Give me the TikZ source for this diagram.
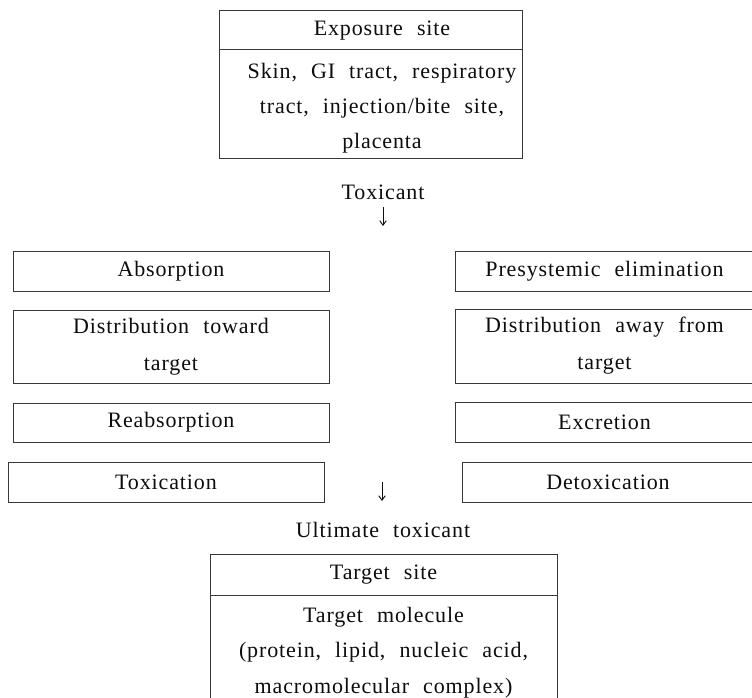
\documentclass[tikz,border=0pt]{standalone}
\usepackage{fontspec}
\setmainfont[LetterSpace=4,WordSpace=2.2]{Liberation Serif}
\usetikzlibrary{arrows.meta}
\definecolor{ink}{gray}{0.05}
\definecolor{edge}{gray}{0.22}
\tikzset{
  txt/.style={font=\fontsize{22}{36}\selectfont, text=ink, inner sep=0pt, align=center},
  boxnode/.style={draw=edge, line width=0.9pt, rectangle, inner sep=0pt, anchor=center,
    font=\fontsize{22}{37}\selectfont, text=ink, align=center},
  flowarrow/.style={draw=ink, line width=0.9pt, -{Straight Barb[length=4.5pt,width=6.5pt]}}
}
\begin{document}
\begin{tikzpicture}[x=1pt,y=-1pt]
\useasboundingbox[fill=white] (0,0) rectangle (752,698);
% top box
\node[boxnode, minimum width=303pt, minimum height=39pt] (topHead) at (370.5,29.5) {};
\node[boxnode, minimum width=303pt, minimum height=109pt] (topBody) at (370.5,103.5) {};
\node[txt] (topHeadTxt) at (382,31) {Exposure site};
\node[txt, font=\fontsize{22}{35}\selectfont] (topBodyTxt) at (382,108) {Skin, GI tract, respiratory\\tract, injection/bite site,\\placenta};
% toxicant
\node[txt] (toxicant) at (383,192) {Toxicant};
\coordinate (a1s) at (383,207);
\coordinate (a1e) at (383,226);
\draw[flowarrow] (a1s) -- (a1e);
% left column
\node[boxnode, minimum width=316pt, minimum height=40pt] (abs) at (171,271) {Absorption};
\node[boxnode, minimum width=316pt, minimum height=73pt] (distT) at (171,346.5) {Distribution toward\\target};
\node[boxnode, minimum width=316pt, minimum height=39pt] (reabs) at (171,422.5) {Reabsorption};
\node[boxnode, minimum width=316pt, minimum height=40pt] (toxi) at (166,482) {Toxication};
% right column
\node[boxnode, minimum width=299pt, minimum height=40pt] (pres) at (604.5,271) {Presystemic elimination};
\node[boxnode, minimum width=299pt, minimum height=74pt] (distA) at (604.5,346) {Distribution away from\\target};
\node[boxnode, minimum width=299pt, minimum height=40pt] (excr) at (604.5,422) {Excretion};
\node[boxnode, minimum width=292pt, minimum height=40pt] (detox) at (608,482) {Detoxication};
% second arrow
\coordinate (a2s) at (382,482);
\coordinate (a2e) at (382,501);
\draw[flowarrow] (a2s) -- (a2e);
\node[txt] (ultimate) at (383,530) {Ultimate toxicant};
% bottom box
\node[boxnode, minimum width=347pt, minimum height=41pt] (botHead) at (383.5,574.5) {Target site};
\node[boxnode, minimum width=347pt, minimum height=115pt, font=\fontsize{22}{35.5}\selectfont] (botBody) at (383.5,652.5) {Target molecule\\(protein, lipid, nucleic acid,\\macromolecular complex)};
\end{tikzpicture}
\end{document}
